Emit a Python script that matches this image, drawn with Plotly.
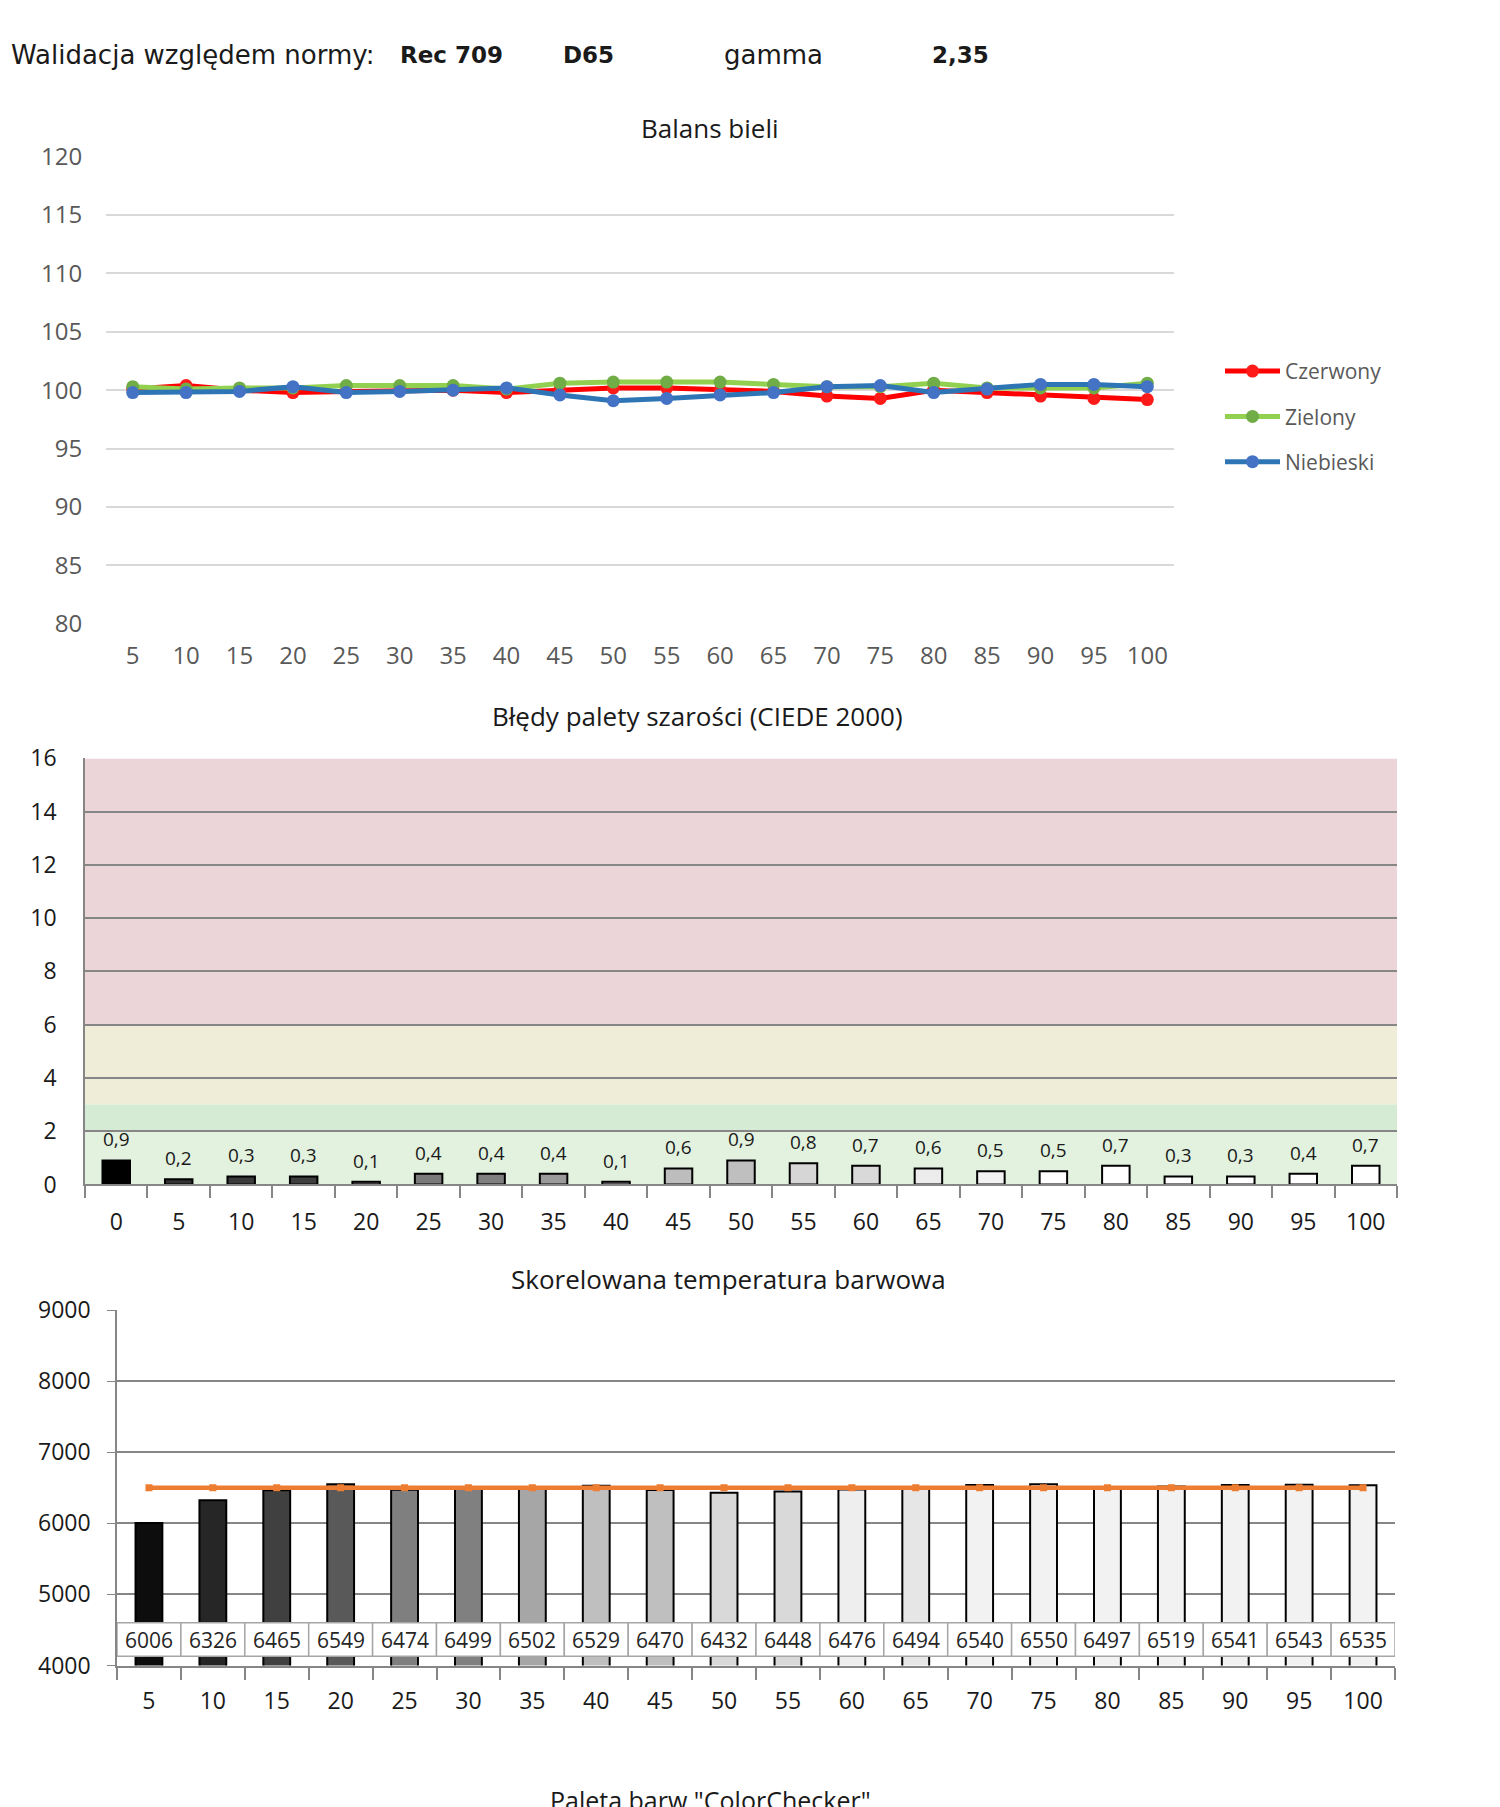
import plotly.graph_objects as go

# ---------------- data ----------------
wb_cats = ["5", "10", "15", "20", "25", "30", "35", "40", "45", "50",
           "55", "60", "65", "70", "75", "80", "85", "90", "95", "100"]
red_vals = [100.1, 100.4, 100.0, 99.8, 99.9, 100.0, 100.0, 99.8, 100.0, 100.2,
            100.2, 100.0, 99.9, 99.5, 99.3, 100.0, 99.8, 99.5, 99.3, 99.2]
green_vals = [100.3, 100.1, 100.2, 100.2, 100.4, 100.4, 100.4, 100.1, 100.6, 100.7,
              100.7, 100.7, 100.5, 100.3, 100.3, 100.6, 100.2, 100.2, 100.2, 100.6]
blue_vals = [99.8, 99.8, 99.9, 100.3, 99.8, 99.9, 100.0, 100.2, 99.6, 99.1,
             99.3, 99.6, 99.8, 100.3, 100.4, 99.8, 100.1, 100.5, 100.5, 100.3]

gray_cats = ["0", "5", "10", "15", "20", "25", "30", "35", "40", "45", "50",
             "55", "60", "65", "70", "75", "80", "85", "90", "95", "100"]
gray_err = [0.9, 0.2, 0.3, 0.3, 0.1, 0.4, 0.4, 0.4, 0.1, 0.6, 0.9,
            0.8, 0.7, 0.6, 0.5, 0.5, 0.7, 0.3, 0.3, 0.4, 0.7]
gray_fill = ["#000000", "#333333", "#3a3a3a", "#3d3d3d", "#6f6f6f", "#7a7a7a", "#7f7f7f",
             "#9a9a9a", "#a8a8a8", "#bdbdbd", "#bfbfbf", "#d6d6d6", "#d9d9d9", "#ececec",
             "#f2f2f2", "#ffffff", "#ffffff", "#ffffff", "#ffffff", "#ffffff", "#ffffff"]

cct_cats = wb_cats
cct_vals = [6006, 6326, 6465, 6549, 6474, 6499, 6502, 6529, 6470, 6432,
            6448, 6476, 6494, 6540, 6550, 6497, 6519, 6541, 6543, 6535]
cct_ref = [6500] * 20
cct_fill = ["#0d0d0d", "#262626", "#404040", "#595959", "#7f7f7f", "#808080", "#a6a6a6",
            "#bfbfbf", "#bfbfbf", "#d9d9d9", "#d9d9d9", "#eeeeee", "#e6e6e6", "#f2f2f2",
            "#f2f2f2", "#f2f2f2", "#f2f2f2", "#f2f2f2", "#f2f2f2", "#f2f2f2"]

header_parts = [("Walidacja względem normy:", False, 1),
                ("Rec 709", True, 390), ("D65", True, 553),
                ("gamma", False, 714), ("2,35", True, 922)]

# ---------------- figure ----------------
W, H = 1500, 1807
FONT = "Open Sans"


def px_y(p):
    return 1 - p / H


fig = go.Figure()

# Chart 1: white balance
line_specs = [("Czerwony", red_vals, "#ff0000", "#ff1a1a"),
              ("Zielony", green_vals, "#92d050", "#70ad47"),
              ("Niebieski", blue_vals, "#2e75b6", "#4472c4")]
for name, vals, lc, mc in line_specs:
    fig.add_trace(go.Scatter(
        x=wb_cats, y=vals, name=name, mode="lines+markers",
        line=dict(color=lc, width=5), marker=dict(color=mc, size=13),
        xaxis="x", yaxis="y", legendgroup=name))

# Chart 2: gray errors
err_text = [f"{v:.1f}".replace(".", ",") for v in gray_err]
fig.add_trace(go.Bar(
    x=gray_cats, y=gray_err, width=0.44,
    marker=dict(color=gray_fill, line=dict(color="#000000", width=2)),
    xaxis="x2", yaxis="y2", showlegend=False))

# Chart 3: CCT
fig.add_trace(go.Bar(
    x=cct_cats, y=cct_vals, width=0.42,
    marker=dict(color=cct_fill, line=dict(color="#000000", width=2)),
    xaxis="x3", yaxis="y3", showlegend=False))
fig.add_trace(go.Scatter(
    x=cct_cats, y=cct_ref, mode="lines+markers",
    line=dict(color="#ed7d31", width=4.5),
    marker=dict(color="#ed7d31", size=7, symbol="square"),
    xaxis="x3", yaxis="y3", showlegend=False))

shapes = []
annotations = []

# bar labels chart 2
for i, (v, t) in enumerate(zip(gray_err, err_text)):
    annotations.append(dict(x=i, y=v, xref="x2", yref="y2", text=t, showarrow=False,
                            yanchor="bottom", yshift=6,
                            font=dict(family=FONT, size=19, color="#1a1a1a")))

# bands chart 2
bands = [(6, 16, "#ebd5d9"), (3, 6, "#efecd8"), (2, 3, "#d6ebd4"), (0, 2, "#e3f1df")]
for y0, y1, c in bands:
    shapes.append(dict(type="rect", xref="x2 domain", yref="y2", x0=0, x1=1,
                       y0=y0, y1=y1, fillcolor=c, line=dict(width=0), layer="below"))

# data table chart 3
for i, v in enumerate(cct_vals):
    shapes.append(dict(type="rect", xref="x3", yref="y3", x0=i - 0.5, x1=i + 0.5,
                       y0=4130, y1=4600, fillcolor="#ffffff",
                       line=dict(color="#a6a6a6", width=1.5), layer="above"))
    annotations.append(dict(x=i, y=4365, xref="x3", yref="y3", text=str(v),
                            showarrow=False, font=dict(family=FONT, size=21, color="#262626")))

# header
for txt, bold, xpx in header_parts:
    annotations.append(dict(x=xpx / W, y=px_y(30), xref="paper", yref="paper",
                            xanchor="left", yanchor="middle", showarrow=False,
                            text=f"<b>{txt}</b>" if bold else txt,
                            font=dict(family="DejaVu Sans", size=26 if not bold else 23,
                                      color="#1a1a1a")))

# titles
for txt, xc, yc in [("Balans bieli", 702, 104),
                    ("Błędy palety szarości (CIEDE 2000)", 689, 703),
                    ("Skorelowana temperatura barwowa", 720, 1276)]:
    annotations.append(dict(x=xc / W, y=px_y(yc), xref="paper", yref="paper",
                            xanchor="center", yanchor="middle", showarrow=False, text=txt,
                            font=dict(family=FONT, size=26, color="#1a1a1a")))
annotations.append(dict(x=702 / W, y=px_y(1788), xref="paper", yref="paper",
                        xanchor="center", yanchor="top", showarrow=False,
                        text='Paleta barw "ColorChecker"',
                        font=dict(family=FONT, size=25, color="#1a1a1a")))

tickfont_gray = dict(family=FONT, size=24, color="#595959")
tickfont_dark = dict(family=FONT, size=23, color="#1a1a1a")

fig.update_layout(
    width=W, height=H, margin=dict(l=0, r=0, t=0, b=0),
    paper_bgcolor="white", plot_bgcolor="rgba(0,0,0,0)",
    font=dict(family=FONT),
    shapes=shapes, annotations=annotations,
    legend=dict(x=1212 / W, y=px_y(331), xanchor="left", yanchor="top",
                font=dict(family=FONT, size=21, color="#595959"),
                itemwidth=55, tracegroupgap=15, bgcolor="rgba(0,0,0,0)"),
    xaxis=dict(domain=[98 / W, 1166 / W], anchor="y", type="category",
               range=[-0.5, 19.5],
               showgrid=False, showline=False, zeroline=False,
               ticks="outside", ticklen=10, tickcolor="rgba(0,0,0,0)",
               tickfont=tickfont_gray),
    yaxis=dict(domain=[px_y(609), px_y(133)], anchor="x", range=[80, 120],
               dtick=5, showgrid=True, gridcolor="#d9d9d9", gridwidth=1.5,
               zeroline=False, showline=False,
               ticks="outside", ticklen=18, tickcolor="rgba(0,0,0,0)",
               tickfont=tickfont_gray),
    xaxis2=dict(domain=[77 / W, 1389 / W], anchor="y2", type="category",
                range=[-0.5, 20.5],
                showgrid=False, zeroline=False, showline=True, linecolor="#868686",
                linewidth=2, ticks="outside", tickson="boundaries", ticklen=12,
                tickcolor="#868686", tickwidth=1.5, tickfont=tickfont_dark,
                ticklabelstandoff=16),
    yaxis2=dict(domain=[px_y(1180), px_y(746)], anchor="x2", range=[0, 16],
                dtick=2, showgrid=True, gridcolor="#868686", gridwidth=1.5,
                zeroline=False, showline=True, linecolor="#868686", linewidth=1.5,
                ticks="outside", ticklen=22, tickcolor="rgba(0,0,0,0)",
                tickfont=tickfont_dark),
    xaxis3=dict(domain=[109 / W, 1387 / W], anchor="y3", type="category",
                range=[-0.5, 19.5],
                showgrid=False, zeroline=False, showline=True, linecolor="#868686",
                linewidth=2, ticks="outside", tickson="boundaries", ticklen=12,
                tickcolor="#868686", tickwidth=1.5, tickfont=tickfont_dark,
                ticklabelstandoff=14),
    yaxis3=dict(domain=[px_y(1670), px_y(1308)], anchor="x3", range=[4000, 9000],
                dtick=1000, showgrid=True, gridcolor="#868686", gridwidth=1.5,
                zeroline=False, showline=True, linecolor="#868686", linewidth=1.5,
                ticks="outside", ticklen=8, tickcolor="#868686",
                ticklabelstandoff=12, tickfont=tickfont_dark),
)

fig.write_html("out.html")
